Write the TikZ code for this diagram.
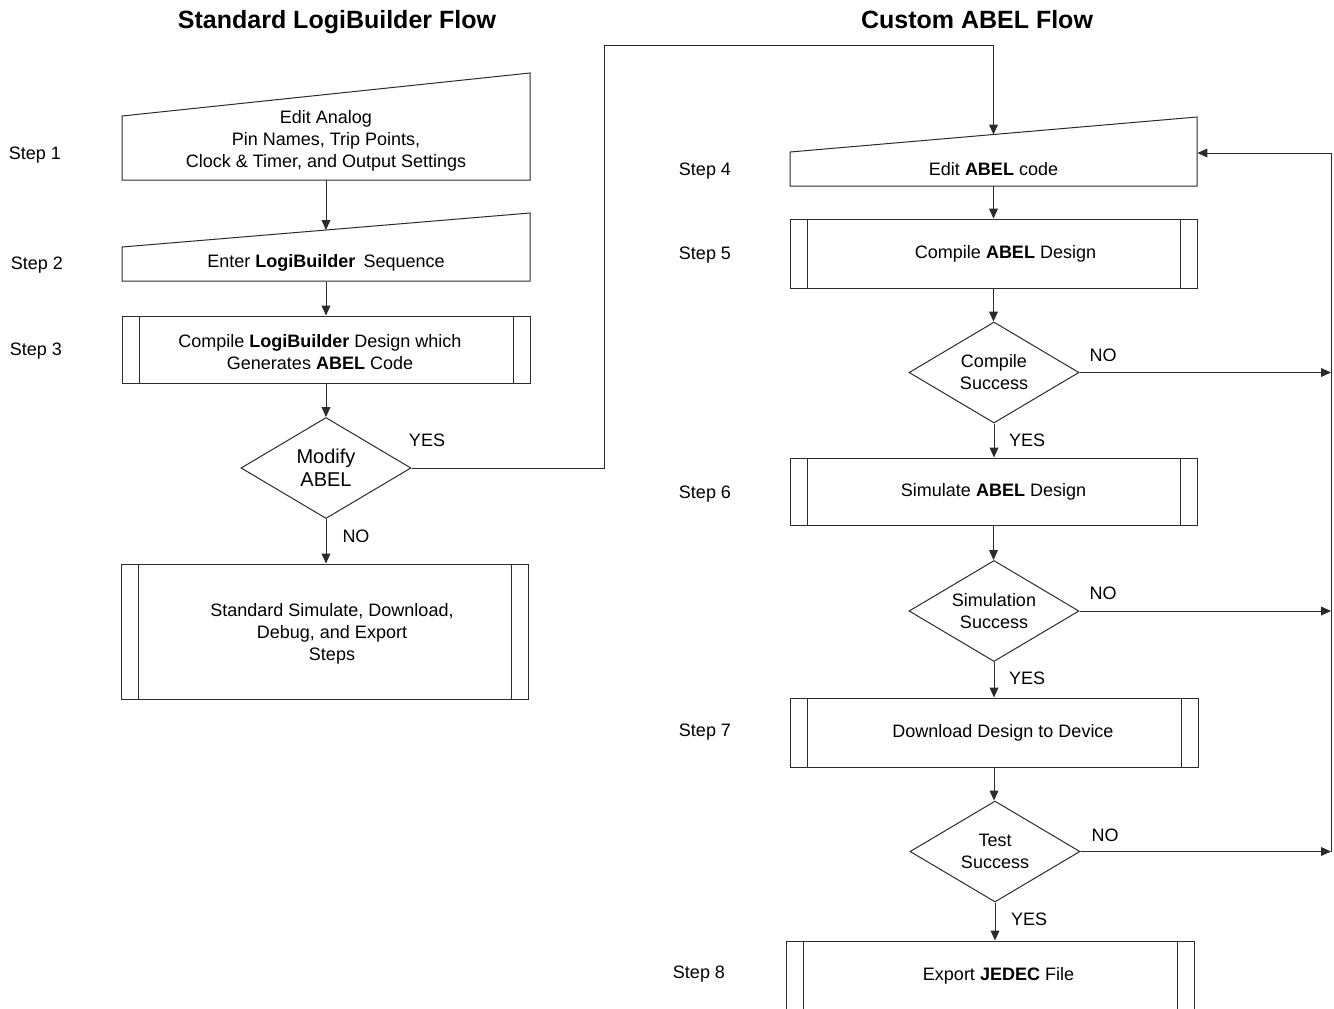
\documentclass[tikz,border=0pt]{standalone}
\usepackage{fontspec}
\setmainfont{Liberation Sans}
\usetikzlibrary{arrows.meta,shapes.geometric,calc}
\definecolor{ink}{HTML}{2B2B2B}
\begin{document}
\begin{tikzpicture}[x=0.5pt,y=-0.5pt,
  every node/.style={font=\fontsize{9}{11}\selectfont, inner sep=0pt, text=black},
  line/.style={draw=ink, line width=0.5pt},
  arr/.style={line, -{Triangle[length=5pt,width=4.4pt]}},
  txtbox/.style={rectangle, align=center, minimum width=#1},
  proc/.style 2 args={rectangle, draw=ink, line width=0.5pt, align=center,
    minimum width=#1, minimum height=#2,
    path picture={\draw[draw=ink, line width=0.5pt]
      ([xshift=8.5pt]path picture bounding box.north west) -- ([xshift=8.5pt]path picture bounding box.south west)
      ([xshift=-8.5pt]path picture bounding box.north east) -- ([xshift=-8.5pt]path picture bounding box.south east);}},
  dec/.style={diamond, draw=ink, line width=0.5pt, align=center,
    minimum width=85pt, minimum height=50.5pt, aspect=1.7},
  title/.style={font=\fontsize{12.5}{15}\selectfont\bfseries}]
\useasboundingbox (0,0) rectangle (1334,1008);

% titles
\node[title] (t1) at (337,22) {Standard LogiBuilder Flow};
\node[title] (t2) at (977,20) {Custom ABEL Flow};

% step labels
\node (st1) at (35,155) {Step 1};
\node (st2) at (37,265) {Step 2};
\node (st3) at (36,351) {Step 3};
\node (st4) at (705,171) {Step 4};
\node (st5) at (705,255) {Step 5};
\node (st6) at (705,494) {Step 6};
\node (st7) at (705,732) {Step 7};
\node (st8) at (699,974) {Step 8};

% left column
\node[txtbox=204pt, minimum height=39pt] (b1) at (326,141)
  {Edit Analog\\Pin Names, Trip Points,\\Clock \& Timer, and Output Settings};
\draw[line] (122,180) -- (530,180) -- (530,73) -- (122,116) -- cycle;

\node[txtbox=204pt, minimum height=19pt] (b2) at (326,263)
  {Enter \textbf{LogiBuilder}\hspace{0.45em}Sequence};
\draw[line] (122,281) -- (530,281) -- (530,213) -- (122,247) -- cycle;
\coordinate (b2in) at (326,230);

\node[proc={204pt}{33.5pt}] (b3) at (326,349.5)
  {\hspace*{-6pt}\raisebox{-2.5pt}[\height][\depth]{\begin{tabular}{@{}c@{}}Compile \textbf{LogiBuilder} Design which\\Generates \textbf{ABEL} Code\end{tabular}}};

\node[dec, font=\fontsize{10}{11.5}\selectfont] (d1) at (326,468) {Modify\\ABEL};

\node[proc={203.5pt}{67.5pt}] (b4) at (324.5,631.5)
  {\hspace*{7.5pt}\raisebox{-1.2pt}[\height][\depth]{\begin{tabular}{@{}c@{}}Standard Simulate, Download,\\Debug, and Export\\Steps\end{tabular}}};

% right column
\node[txtbox=203.5pt, minimum height=17pt] (e1) at (993.5,169) {Edit \textbf{ABEL} code};
\draw[line] (790,186) -- (1197,186) -- (1197,117) -- (790,152) -- cycle;
\coordinate (e1in) at (993.5,134.5);

\node[proc={203.5pt}{34.5pt}] (c1) at (993.5,253.5) {\hspace*{12pt}Compile \textbf{ABEL} Design};
\node[dec] (dd1) at (994,372.5) {Compile\\Success};
\node[proc={203.5pt}{33.5pt}] (s1) at (993.5,491.5) {Simulate \textbf{ABEL} Design};
\node[dec] (dd2) at (994,611) {Simulation\\Success};
\node[proc={204pt}{34.5pt}] (dl) at (994,732.5) {\hspace*{9pt}Download Design to Device};
\node[dec] (dd3) at (995,851.5) {Test\\Success};
\node[proc={204pt}{34.5pt}] (ex) at (990,975.5) {\hspace*{8.5pt}Export \textbf{JEDEC} File};

% branch labels
\node (y1) at (427,440) {YES};
\node (n1) at (356,536) {NO};
\node (n2) at (1103,355) {NO};
\node (y2) at (1027,440) {YES};
\node (n3) at (1103,593) {NO};
\node (y3) at (1027,678) {YES};
\node (n4) at (1105,835) {NO};
\node (y4) at (1029,919) {YES};

% connectors left
\draw[arr] (b1.south) -- (b2in);
\draw[arr] (b2.south) -- (b3.north);
\draw[arr] (b3.south) -- (d1.north);
\draw[arr] (d1.south) -- (d1.south |- b4.north);
\coordinate (jt) at (604,45);
\draw[arr] (d1.east) -- (d1.east -| jt) -- (jt) -- (jt -| e1in) -- (e1in);

% connectors right
\draw[arr] (e1.south) -- (c1.north);
\draw[arr] (c1.south) -- (c1.south |- dd1.north);
\draw[arr] (dd1.south) -- (dd1.south |- s1.north);
\draw[arr] (s1.south) -- (s1.south |- dd2.north);
\draw[arr] (dd2.south) -- (dd2.south |- dl.north);
\draw[arr] (dl.south) -- (dl.south |- dd3.north);
\draw[arr] (dd3.south) -- (dd3.south |- ex.north);

\coordinate (rail) at (1331,153);
\draw[arr] (dd1.east) -- (dd1.east -| rail);
\draw[arr] (dd2.east) -- (dd2.east -| rail);
\draw[arr] (dd3.east) -- (dd3.east -| rail);
\draw[arr] (dd3.east -| rail) -- (rail) -- (rail -| e1.east);
\end{tikzpicture}
\end{document}
